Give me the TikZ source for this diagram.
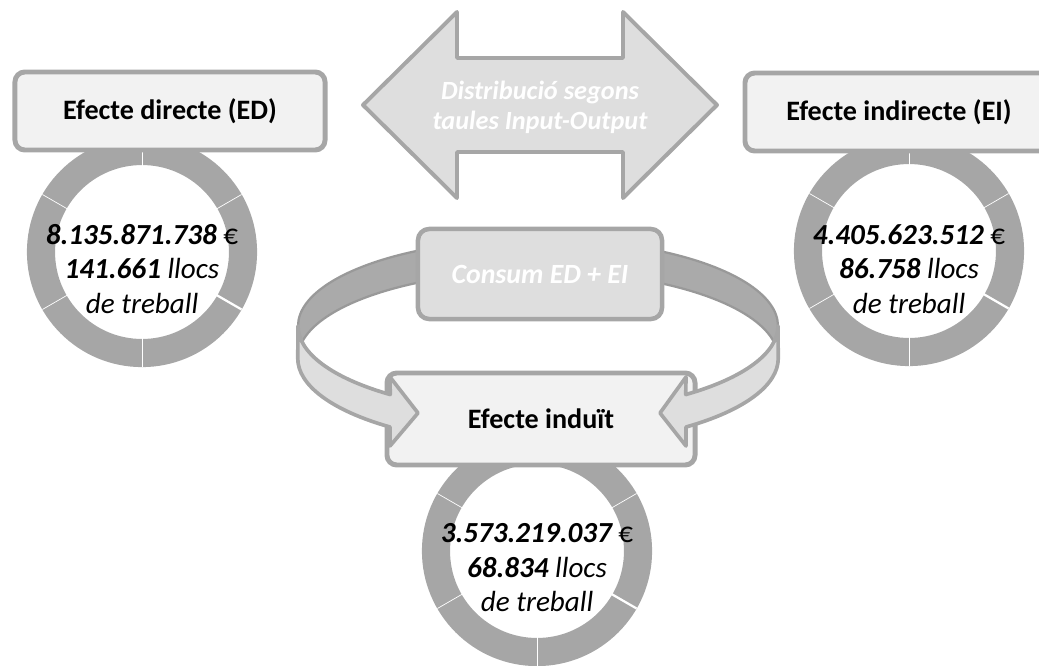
\documentclass[tikz,border=0pt]{standalone}
\usepackage{fontspec}
\setmainfont{Carlito}
\usetikzlibrary{positioning}
\definecolor{boxfill}{HTML}{F2F2F2}
\definecolor{edgegray}{HTML}{A6A6A6}
\definecolor{arrowfill}{HTML}{DEDEDE}
\definecolor{ringgray}{HTML}{A6A6A6}
\definecolor{darkband}{HTML}{AAAAAA}
\tikzset{
x=0.025cm, y=-0.025cm, % one unit is one pixel of the sketch, y runs down
effect/.style={draw=edgegray, fill=boxfill, line width=3.5pt, rounded corners=7pt,
  minimum height=1.95cm, font=\bfseries\fontsize{20}{24}\selectfont}, % the three effect boxes
consum/.style={draw=edgegray, fill=arrowfill, line width=3.2pt, rounded corners=8pt,
  minimum width=6.1cm, minimum height=2.25cm, text=white,
  font=\bfseries\itshape\fontsize{19.8}{24}\selectfont},
ring/.style={circle, draw=ringgray, line width=20pt, minimum size=5.05cm, inner sep=0pt},
segline/.style={white, line width=0.5pt},
figtext/.style={align=center, font=\itshape\fontsize{20.7}{24.5}\selectfont},
bigarrow/.style={draw=edgegray, fill=arrowfill, line width=2.8pt, line join=round},
backband/.style={draw=gray!80, fill=darkband, line width=1.6pt, line join=round},
frontband/.style={draw=edgegray, fill=arrowfill, line width=2.6pt, line join=round},
}
\begin{document}
\begin{tikzpicture}
\useasboundingbox (0,0) rectangle (1039,665);
% rings first, the boxes hide their tops
\node[ring] (edring) at (142,252) {};
\node[ring] (eiring) at (909,251) {};
\node[ring] (inring) at (537,551) {};
\foreach \r in {edring,eiring,inring}{
  \foreach \a in {90,-30,-90,-150,150}
    \draw[segline] (\r.center) ++(\a:86) -- ++(\a:29);
  \draw[white, line width=1.6pt] (\r.center) ++(30:86) -- ++(30:29); % y is flipped: this is the lower right one
}
\node[figtext] (edfig) at (142,269) {\textbf{8.135.871.738} \upshape€\\\textbf{141.661} llocs\\de treball};
\node[figtext] (eifig) at (909,269) {\textbf{4.405.623.512} \upshape€\\\textbf{86.758} llocs\\de treball};
\node[figtext] (infig) at (537,568) {\textbf{3.573.219.037} \upshape€\\\textbf{68.834} llocs\\de treball};
% boxes
\node[effect, minimum width=7.75cm] (ed) at (170,111) {Efecte directe (ED)};
\node[effect, minimum width=7.7cm] (ei) at (899,112) {Efecte indirecte (EI)};
% double arrow between ED and EI
\draw[bigarrow] (363,105) -- (457,12) -- (457,58) -- (623,58) -- (623,12) -- (717,105)
  -- (623,198) -- (623,152) -- (457,152) -- (457,198) -- cycle;
\node[align=center, text=white, font=\bfseries\itshape\fontsize{18.7}{21.5}\selectfont] (io) at (540,107)
  {Distribució segons\\taules Input-Output};
% back half of the loop, behind the consum box
\coordinate (up) at (538,326);
\coordinate (dn) at (538,358);
\path[backband] (up) ++(240:240 and 87) arc[start angle=240, end angle=180, x radius=240, y radius=87]
  -- ++(0,32) arc[start angle=180, end angle=240, x radius=240, y radius=87] -- cycle;
\path[backband] (up) ++(300:240 and 87) arc[start angle=300, end angle=360, x radius=240, y radius=87]
  -- ++(0,32) arc[start angle=360, end angle=300, x radius=240, y radius=87] -- cycle;
\node[consum] (cons) at (540,274) {Consum ED + EI};
\node[effect, minimum width=7.7cm, minimum height=2.3cm] (ind) at (541,419) {Efecte induït};
% front half of the loop, ending in the arrow heads
\path[frontband] (up) ++(180:240 and 87) arc[start angle=180, end angle=128, x radius=240, y radius=87]
  -- (390,377) -- (418,413) -- (390,446) -- (390,427)
  arc[start angle=128, end angle=180, x radius=240, y radius=87] -- cycle;
\path[frontband] (up) ++(0:240 and 87) arc[start angle=0, end angle=52, x radius=240, y radius=87]
  -- (686,377) -- (660,413) -- (686,446) -- (686,427)
  arc[start angle=52, end angle=0, x radius=240, y radius=87] -- cycle;
\end{tikzpicture}
\end{document}
